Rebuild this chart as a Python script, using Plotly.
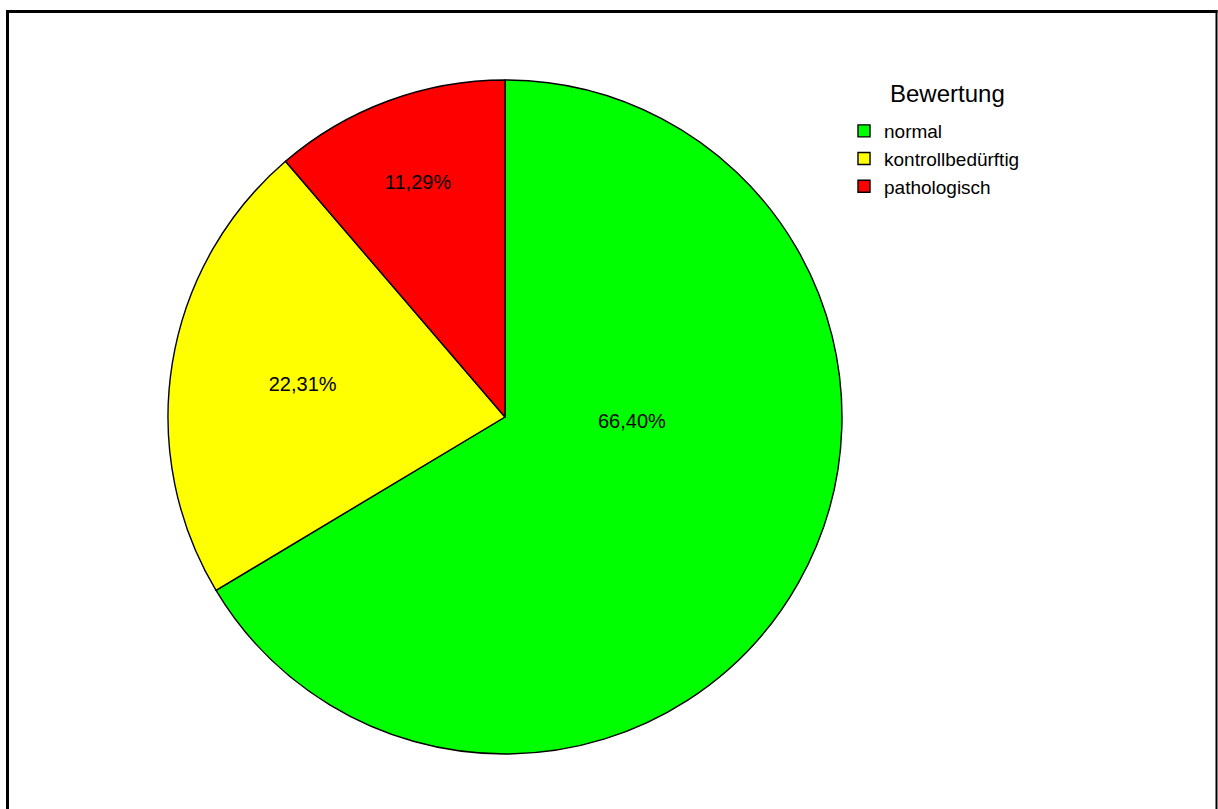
import plotly.graph_objects as go

categories = ["normal", "kontrollbedürftig", "pathologisch"]
percent_values = [66.40, 22.31, 11.29]
slice_colors = ["#00FF00", "#FFFF00", "#FF0000"]
legend_title = "Bewertung"

W, H = 1218, 809
cx, cy, r = 505, 417, 337
FONT = "Liberation Sans, Arial"

total = sum(percent_values)
green_label = f"{percent_values[0] / total * 100:.2f}%".replace(".", ",")

fig = go.Figure()
fig.add_trace(go.Pie(
    labels=categories,
    values=percent_values,
    sort=False,
    direction="clockwise",
    rotation=0,
    marker=dict(colors=slice_colors, line=dict(color="#000000", width=1.4)),
    texttemplate=["", "%{percent:.2%}", "%{percent:.2%}"],
    textposition="inside",
    insidetextorientation="horizontal",
    textfont=dict(family=FONT, size=20, color="#000000"),
    domain=dict(x=[(cx - r) / W, (cx + r) / W], y=[(H - cy - r) / H, (H - cy + r) / H]),
    hoverinfo="label+percent",
))

fig.update_layout(
    width=W, height=H,
    margin=dict(l=0, r=0, t=0, b=0),
    paper_bgcolor="#FFFFFF",
    plot_bgcolor="#FFFFFF",
    separators=",.",
    showlegend=True,
    legend=dict(
        x=844 / W, y=(H - 112) / H, xanchor="left", yanchor="top",
        font=dict(family=FONT, size=19, color="#000000"),
        tracegroupgap=0,
        bgcolor="rgba(0,0,0,0)",
    ),
    annotations=[
        dict(text=legend_title, xref="paper", yref="paper", x=947 / W, y=(H - 93) / H,
             xanchor="center", yanchor="middle", showarrow=False,
             font=dict(family=FONT, size=24, color="#000000")),
        dict(text=green_label, xref="paper", yref="paper", x=632 / W, y=(H - 421) / H,
             xanchor="center", yanchor="middle", showarrow=False,
             font=dict(family=FONT, size=20, color="#000000")),
    ],
    shapes=[
        dict(type="line", xref="paper", yref="paper", x0=7.5 / W, x1=7.5 / W, y0=0, y1=(H - 10) / H,
             line=dict(color="#000000", width=3)),
        dict(type="line", xref="paper", yref="paper", x0=6 / W, x1=1217.5 / W, y0=(H - 11.5) / H, y1=(H - 11.5) / H,
             line=dict(color="#000000", width=3)),
        dict(type="line", xref="paper", yref="paper", x0=1216.5 / W, x1=1216.5 / W, y0=0, y1=(H - 10) / H,
             line=dict(color="#000000", width=2)),
    ],
)

fig.write_html("out.html")
